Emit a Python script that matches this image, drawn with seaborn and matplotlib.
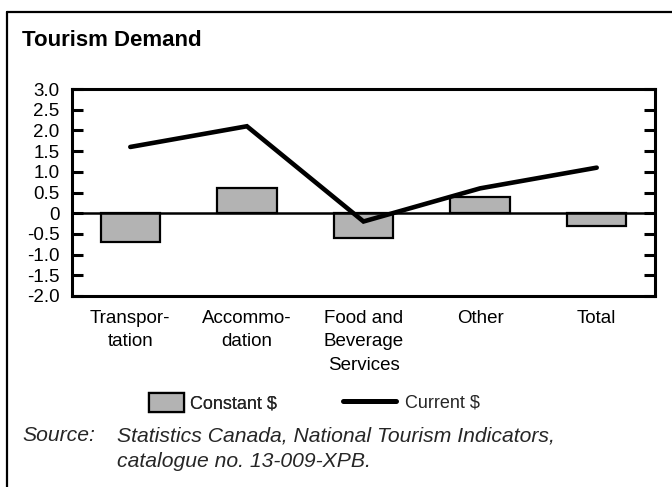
import matplotlib
matplotlib.use("Agg")
import matplotlib.pyplot as plt
from matplotlib.lines import Line2D
from matplotlib.patches import Patch
import seaborn as sns
import pandas as pd

categories = ["Transpor-\ntation", "Accommo-\ndation", "Food and\nBeverage\nServices", "Other", "Total"]
constant_dollars = [-0.7, 0.6, -0.6, 0.4, -0.3]
current_dollars = [1.6, 2.1, -0.2, 0.6, 1.1]
ytick_values = [-2.0, -1.5, -1.0, -0.5, 0.0, 0.5, 1.0, 1.5, 2.0, 2.5, 3.0]
ytick_labels = ["-2.0", "-1.5", "-1.0", "-0.5", "0", "0.5", "1.0", "1.5", "2.0", "2.5", "3.0"]

df = pd.DataFrame({"category": categories,
                   "constant": constant_dollars,
                   "current": current_dollars})

sns.set_theme(style="white")
plt.rcParams["font.family"] = ["Liberation Sans", "DejaVu Sans"]

W, H = 672, 487
fig = plt.figure(figsize=(W / 100, H / 100), dpi=100)
ax = fig.add_axes([72 / W, 1 - 296 / H, (655 - 72) / W, (296 - 89) / H])

bar_gray = "#b3b3b3"
sns.barplot(data=df, x="category", y="constant", color=bar_gray, width=0.51,
            edgecolor="black", linewidth=1.6, saturation=1, ax=ax, zorder=2)
ax.axhline(0, color="black", lw=1.8, zorder=3)
sns.pointplot(data=df, x="category", y="current", color="black", markers="",
              linestyles="-", linewidth=3.3, errorbar=None, ax=ax, zorder=4,
              solid_capstyle="round", solid_joinstyle="miter")

ax.set_xlim(-0.5, 4.5)
ax.set_ylim(-2.0, 3.0)
ax.set_yticks(ytick_values)
ax.set_yticklabels(ytick_labels)
ax.set_xticks(range(len(categories)))
ax.set_xticklabels(categories, linespacing=1.5)
ax.set_xlabel("")
ax.set_ylabel("")
ax.tick_params(axis="y", direction="in", length=8, width=2.2, left=True, right=True,
               labelsize=13.5, pad=9, colors="black")
ax.tick_params(axis="x", length=0, labelsize=13.5, pad=10, colors="black")
for s in ax.spines.values():
    s.set_visible(True)
    s.set_color("black")
    s.set_linewidth(2.2)

# outer frame
fig.add_artist(Line2D([7 / W, 1.0], [1 - 12 / H, 1 - 12 / H], color="black", lw=1.6,
                      transform=fig.transFigure))
fig.add_artist(Line2D([7 / W, 7 / W], [0.0, 1 - 12 / H], color="black", lw=1.6,
                      transform=fig.transFigure))

fig.text(22 / W, 1 - 41 / H, "Tourism Demand", fontsize=16, fontweight="bold",
         va="center", ha="left", color="black")

# legends
fs_leg = 13
em = fs_leg * 100 / 72
leg1 = fig.legend(handles=[Patch(facecolor=bar_gray, edgecolor="black", linewidth=1.6)],
                  labels=["Constant $"], loc="center left",
                  bbox_to_anchor=(149 / W, 1 - 403 / H), frameon=False, fontsize=fs_leg,
                  handlelength=35 / em, handleheight=22 / em, handletextpad=6 / em,
                  borderpad=0, borderaxespad=0)
fig.add_artist(leg1)
fig.legend(handles=[Line2D([], [], color="black", lw=3.6)], labels=["Current $"],
           loc="center left", bbox_to_anchor=(343 / W, 1 - 403 / H), frameon=False,
           fontsize=fs_leg, handlelength=53 / em, handletextpad=9 / em,
           borderpad=0, borderaxespad=0)

fs_src = 15.2
fig.text(22 / W, 1 - 441 / H, "Source:", fontsize=fs_src, style="italic", va="baseline", ha="left")
fig.text(117 / W, 1 - 441 / H, "Statistics Canada, National Tourism Indicators,",
         fontsize=fs_src, style="italic", va="baseline", ha="left")
fig.text(117 / W, 1 - 467 / H, "catalogue no. 13-009-XPB.",
         fontsize=fs_src, style="italic", va="baseline", ha="left")

fig.savefig("out.png", dpi=100)
